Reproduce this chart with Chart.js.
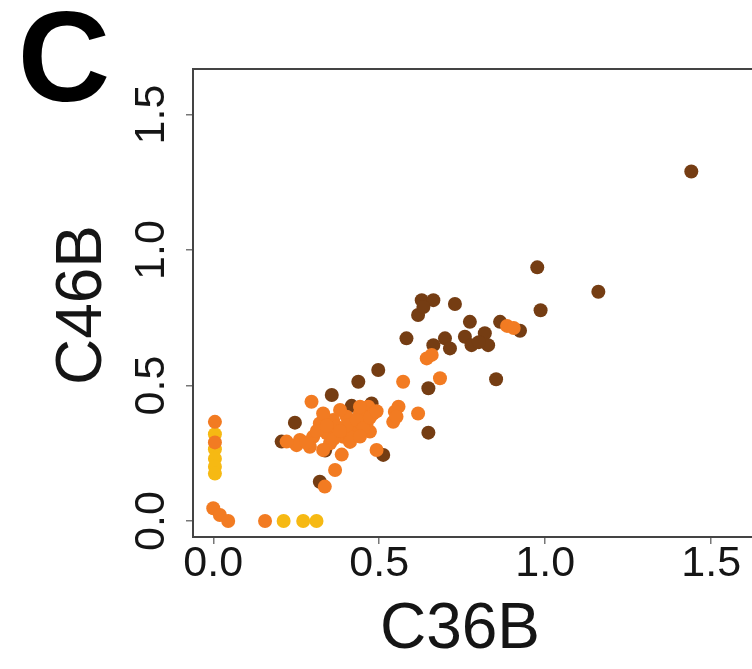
<!DOCTYPE html>
<html lang="en">
<head>
    <meta charset="UTF-8">
    <title>C46B vs C36B</title>
    <script src="https://cdn.jsdelivr.net/npm/chart.js@4"></script>
    <style>
        html, body { margin: 0; padding: 0; background: #fff; overflow: hidden; }
        #chartDiv { position: absolute; left: 0; top: 0; width: 780px; height: 669px; }
    </style>
</head>
<body>
<div id="chartDiv"><canvas id="scatter" width="780" height="669"></canvas></div>
<script>
    // values, [C36B, C46B]
    var darkPts = [
        [0.976, 0.936], [0.986, 0.778], [1.16, 0.846], [1.44, 1.29],
        [0.628, 0.815], [0.663, 0.815], [0.617, 0.760], [0.633, 0.790], [0.728, 0.801],
        [0.582, 0.674], [0.773, 0.735], [0.864, 0.735], [0.924, 0.702],
        [0.698, 0.674], [0.663, 0.649], [0.713, 0.637], [0.758, 0.680], [0.778, 0.649],
        [0.818, 0.693], [0.828, 0.649], [0.800, 0.660],
        [0.648, 0.490], [0.852, 0.523], [0.497, 0.557], [0.437, 0.514], [0.648, 0.326],
        [0.357, 0.465], [0.417, 0.425], [0.477, 0.434], [0.246, 0.363], [0.206, 0.293],
        [0.512, 0.244], [0.321, 0.145], [0.337, 0.260]
    ];
    var orangePts = [
        [0.885, 0.720], [0.905, 0.712],
        [0.643, 0.600], [0.658, 0.613], [0.572, 0.514], [0.683, 0.527],
        [0.558, 0.422], [0.617, 0.397], [0.547, 0.403], [0.542, 0.366], [0.552, 0.385],
        [0.296, 0.440], [0.467, 0.422], [0.492, 0.262], [0.387, 0.245], [0.367, 0.188], [0.336, 0.127],
        [0.261, 0.299], [0.301, 0.311], [0.342, 0.324], [0.321, 0.360], [0.361, 0.373],
        [0.402, 0.385], [0.382, 0.410], [0.442, 0.397], [0.462, 0.360], [0.472, 0.330],
        [0.422, 0.336], [0.392, 0.311], [0.352, 0.287], [0.291, 0.274], [0.251, 0.280],
        [0.331, 0.262], [0.412, 0.311], [0.442, 0.422], [0.372, 0.348], [0.331, 0.397],
        [0.482, 0.397], [0.221, 0.293],
        [0.281, 0.290], [0.312, 0.332], [0.362, 0.302], [0.402, 0.352], [0.432, 0.372],
        [0.452, 0.342], [0.382, 0.332], [0.342, 0.352], [0.412, 0.292], [0.472, 0.382],
        [0.492, 0.405], [0.442, 0.312],
        [0.005, 0.366], [0.005, 0.290], [0.0, 0.047], [0.020, 0.022], [0.045, 0.0], [0.156, 0.0]
    ];
    var yellowPts = [
        [0.005, 0.320], [0.005, 0.265], [0.005, 0.230], [0.005, 0.200], [0.005, 0.175],
        [0.212, 0.0], [0.271, 0.0], [0.311, 0.0]
    ];

    var xTicks = [0, 0.5, 1, 1.5];
    var yTicks = [0, 0.5, 1, 1.5];
    var xTickLabels = ["0.0", "0.5", "1.0", "1.5"];
    var yTickLabels = ["0.0", "0.5", "1.0", "1.5"];
    var xTitle = "C36B";
    var yTitle = "C46B";
    var panelLetter = "C";

    var FONT = '"Liberation Sans", Arial, Helvetica, sans-serif';

    function toXY(arr) {
        return arr.map(function (p) { return { x: p[0], y: p[1] }; });
    }

    // R-like box, tick labels, axis titles, panel letter
    var rStyle = {
        id: 'rStyle',
        afterDraw: function (chart) {
            var ctx = chart.ctx;
            var a = chart.chartArea;
            var xs = chart.scales.x, ys = chart.scales.y;
            ctx.save();
            ctx.strokeStyle = '#444';
            ctx.lineWidth = 2;
            ctx.strokeRect(a.left, a.top, a.right - a.left, a.bottom - a.top);

            ctx.fillStyle = '#151515';
            ctx.textAlign = 'center';
            ctx.textBaseline = 'middle';
            ctx.font = '43px ' + FONT;
            xTicks.forEach(function (v, i) {
                ctx.fillText(xTickLabels[i], xs.getPixelForValue(v), a.bottom + 27);
            });
            yTicks.forEach(function (v, i) {
                ctx.save();
                ctx.translate(a.left - 41, ys.getPixelForValue(v));
                ctx.rotate(-Math.PI / 2);
                ctx.fillText(yTickLabels[i], 0, 0);
                ctx.restore();
            });

            ctx.font = '64px ' + FONT;
            ctx.fillText(xTitle, 460, 630);
            ctx.save();
            ctx.translate(83, 305);
            ctx.rotate(-Math.PI / 2);
            ctx.fillText(yTitle, 0, 0);
            ctx.restore();

            ctx.fillStyle = '#000';
            ctx.font = 'bold 128px ' + FONT;
            ctx.fillText(panelLetter, 64, 66);
            ctx.restore();
        }
    };

    var axisCommon = {
        type: 'linear',
        ticks: { display: false },
        grid: {
            display: true,
            drawOnChartArea: false,
            drawTicks: true,
            tickLength: 7,
            color: '#777',
            lineWidth: 1.5
        },
        border: { display: false }
    };

    var ctx = document.getElementById('scatter');
    var chart = new Chart(ctx, {
        type: 'scatter',
        data: {
            datasets: [
                { label: 'orange', data: toXY(orangePts), backgroundColor: '#f27b22', borderColor: '#f27b22' },
                { label: 'yellow', data: toXY(yellowPts), backgroundColor: '#f6b913', borderColor: '#f6b913' },
                { label: 'dark', data: toXY(darkPts), backgroundColor: '#753d13', borderColor: '#753d13' }
            ]
        },
        options: {
            responsive: false,
            animation: false,
            devicePixelRatio: 1,
            layout: { padding: { left: 0, top: 69, right: 14, bottom: 0 } },
            elements: { point: { radius: 7, borderWidth: 0, hoverRadius: 7 } },
            plugins: { legend: { display: false }, tooltip: { enabled: false } },
            scales: {
                x: Object.assign({}, axisCommon, {
                    position: 'bottom',
                    min: -0.061, max: 1.665,
                    afterBuildTicks: function (s) { s.ticks = xTicks.map(function (v) { return { value: v }; }); },
                    afterFit: function (s) { s.height = 132; }
                }),
                y: Object.assign({}, axisCommon, {
                    position: 'left',
                    min: -0.059, max: 1.668,
                    afterBuildTicks: function (s) { s.ticks = yTicks.map(function (v) { return { value: v }; }); },
                    afterFit: function (s) { s.width = 193; }
                })
            }
        },
        plugins: [rStyle]
    });
</script>
</body>
</html>
